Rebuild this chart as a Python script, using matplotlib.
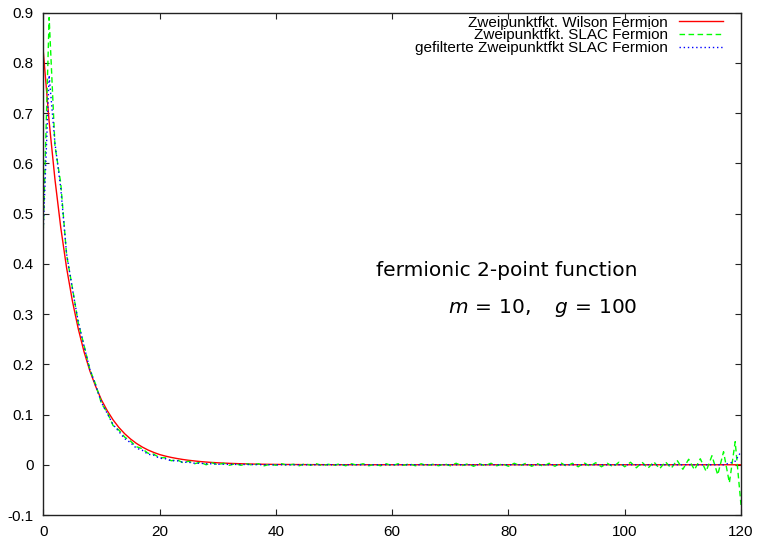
import matplotlib
matplotlib.use("Agg")
import matplotlib.pyplot as plt
from matplotlib.ticker import FixedLocator, FuncFormatter

# ---------------- data ----------------
wilson_x = [0, 1, 2, 3, 4, 5, 6, 7, 8, 9, 10, 11, 12, 13, 14, 15, 16, 17, 18, 19, 20,
            21, 22, 23, 24, 25, 26, 27, 28, 29, 30, 32, 34, 36, 38, 40, 45, 50, 60, 120]
wilson_y = [0.822, 0.683, 0.568, 0.472, 0.392, 0.326, 0.271, 0.225, 0.187, 0.156, 0.129,
            0.1075, 0.0893, 0.0742, 0.0617, 0.0513, 0.0426, 0.0354, 0.0294, 0.0245, 0.0203,
            0.0172, 0.0146, 0.0124, 0.0105, 0.0089, 0.0076, 0.0064, 0.0054, 0.0046, 0.0039,
            0.0028, 0.0020, 0.0014, 0.0010, 0.0007, 0.0003, 0.0001, 0.0, 0.0]

slac_x = list(range(0, 121))
slac_y = [0.470, 0.890, 0.635, 0.560, 0.418, 0.352, 0.283, 0.238, 0.190, 0.160,
          0.122, 0.104, 0.078, 0.069, 0.055, 0.047, 0.036, 0.032, 0.023, 0.021,
          0.014, 0.014, 0.008, 0.010, 0.004, 0.007, 0.002, 0.005, 0.000, 0.004,
          0.000, 0.003, -0.001, 0.002, -0.001, 0.002, -0.001, 0.002, -0.002, 0.001,
          -0.001, 0.002, -0.001, 0.001, -0.002, 0.002, -0.001, 0.002, -0.002, 0.001,
          -0.001, 0.002, -0.002, 0.002, -0.001, 0.002, -0.002, 0.001, -0.002, 0.002,
          -0.002, 0.002, -0.001, 0.002, -0.002, 0.002, -0.002, 0.001, -0.002, 0.002,
          -0.002, 0.003, -0.002, 0.002, -0.003, 0.002, -0.002, 0.003, -0.002, 0.002,
          -0.003, 0.003, -0.002, 0.003, -0.003, 0.002, -0.003, 0.003, -0.003, 0.004,
          -0.003, 0.003, -0.004, 0.004, -0.003, 0.004, -0.004, 0.003, -0.004, 0.005,
          -0.004, 0.005, -0.006, 0.005, -0.007, 0.006, -0.008, 0.006, -0.007, 0.009,
          -0.009, 0.011, -0.010, 0.012, -0.013, 0.018, -0.020, 0.026, -0.036, 0.046,
          -0.080]

filt_x = [0, 1, 2, 3, 4, 5, 6, 7, 8, 9, 10, 11, 12, 13, 14, 15, 16, 17, 18, 19, 20,
          21, 22, 23, 24, 25, 26, 27, 28, 29, 30, 35, 40, 50, 60, 70, 80, 90, 100, 110,
          115, 117, 118, 119, 120]
filt_y = [0.470, 0.775, 0.640, 0.550, 0.420, 0.350, 0.285, 0.236, 0.190, 0.158, 0.124,
          0.102, 0.080, 0.066, 0.052, 0.044, 0.033, 0.029, 0.021, 0.019, 0.013,
          0.012, 0.008, 0.008, 0.005, 0.005, 0.003, 0.003, 0.002, 0.002, 0.001,
          0.0005, 0.0, 0.0, 0.0, 0.0, 0.0, 0.0, 0.0, 0.0,
          0.0, 0.0, 0.003, 0.007, 0.026]

labels = ["Zweipunktfkt. Wilson Fermion",
          "Zweipunktfkt. SLAC Fermion",
          "gefilterte Zweipunktfkt SLAC Fermion"]

x_ticks = [0, 20, 40, 60, 80, 100, 120]
y_ticks = [-0.1, 0, 0.1, 0.2, 0.3, 0.4, 0.5, 0.6, 0.7, 0.8, 0.9]

# ---------------- style ----------------
plt.rcParams["font.family"] = ["Liberation Sans", "DejaVu Sans"]
plt.rcParams["axes.unicode_minus"] = False
plt.rcParams["mathtext.fontset"] = "dejavusans"

fig = plt.figure(figsize=(7.6, 5.39), dpi=100)
ax = fig.add_axes([0.0570, 0.0445, 0.918, 0.9323])

ax.plot(wilson_x, wilson_y, color="#ff0000", lw=1.0, label=labels[0])
ax.plot(slac_x, slac_y, color="#00ff00", lw=1.0, linestyle=(0, (4, 2.5)), label=labels[1])
ax.plot(filt_x, filt_y, color="#0000ff", lw=1.0, linestyle=(0, (1, 2)), label=labels[2])

ax.set_xlim(0, 120)
ax.set_ylim(-0.1, 0.9)
ax.xaxis.set_major_locator(FixedLocator(x_ticks))
ax.yaxis.set_major_locator(FixedLocator(y_ticks))
ax.xaxis.set_major_formatter(FuncFormatter(lambda v, p: "%g" % v))
ax.yaxis.set_major_formatter(FuncFormatter(lambda v, p: "%g" % round(v, 3)))
ax.tick_params(direction="in", length=4.5, width=0.8, top=True, right=True,
               labelsize=11, pad=7, color="#222222")
for s in ax.spines.values():
    s.set_linewidth(1.0)
    s.set_color("#222222")

leg = ax.legend(loc="upper right", bbox_to_anchor=(0.974, 0.994), frameon=False,
                markerfirst=False, fontsize=11, handlelength=2.9, handletextpad=0.7,
                labelspacing=-0.08, borderpad=0, borderaxespad=0)

ax.text(0.851, 0.4747, "fermionic 2-point function", transform=ax.transAxes,
        ha="right", va="baseline", fontsize=14.5, family="DejaVu Sans")
ax.text(0.851, 0.4018, r"$m\,=\,10,\quad g\,=\,100$", transform=ax.transAxes,
        ha="right", va="baseline", fontsize=14.5)

fig.savefig("out.png", dpi=100)
